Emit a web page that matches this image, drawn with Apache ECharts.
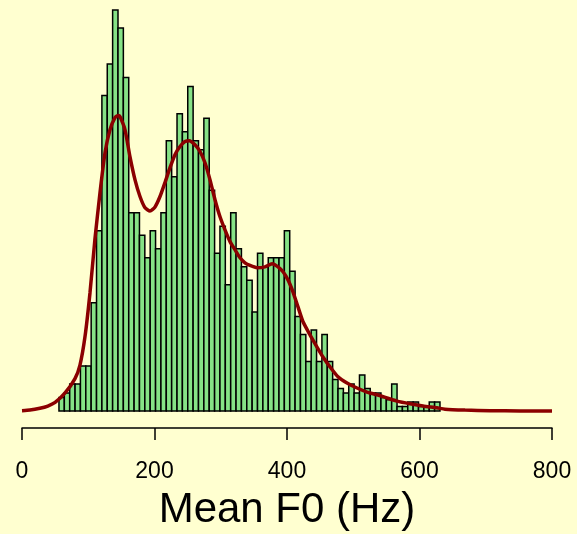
<!DOCTYPE html>
<html>
<head>
<meta charset="utf-8">
<script src="https://cdn.jsdelivr.net/npm/echarts@6/dist/echarts.min.js"></script>
<style>
html,body{margin:0;padding:0;background:#FFFFD0;}
#c{width:577px;height:534px;}
</style>
</head>
<body>
<div id="c"></div>
<script>
// Histogram bins (Hz)
const BIN_START = 55.8;
const BIN_WIDTH = 8.1;
// Bar counts, one per bin
const counts = [3, 4, 6, 6, 10, 10, 24, 40, 70, 77,
  89, 85, 74, 44, 44, 39, 34, 40, 36, 44,
  60, 52, 66, 62, 72, 60, 58, 65, 49, 35,
  41, 28, 44, 36, 32, 29, 22, 35, 32, 34,
  34, 34, 40, 31, 21, 17, 11, 18, 11, 17,
  11, 7, 5, 4, 6, 4, 8, 5, 4, 4,
  3, 2.5, 6, 1, 1, 2, 2, 1, 1, 2, 2];
// Density curve (x in Hz, y in same units as counts)
const curveX = [0, 12, 27, 39, 50, 65, 80, 87.5, 95, 102.6, 110, 117.7, 125.3, 132.8, 140.4, 145.4, 148, 155.5, 163, 170.6, 178.1, 185.7, 193.2, 200.8, 208.3, 215.8, 223.4, 230.9, 238.5, 246, 252.5, 261.1, 268.7, 276.2, 283.8, 291.3, 298.9, 306.4, 314, 321.5, 329.1, 336.6, 344.2, 354.7, 366.8, 377.4, 386.4, 394, 401.5, 409.1, 416.6, 424.2, 434.7, 445.3, 454.3, 464.9, 477, 490.6, 505.7, 520.8, 535.8, 550.9, 566, 585.7, 605.3, 626.4, 638.5, 668.7, 706.4, 751.7, 800];
const curveY = [0.07, 0.2, 0.6, 1.1, 1.9, 4.0, 7.2, 10.2, 16.4, 26.2, 38.0, 48.4, 57.3, 62.4, 65.1, 65.6, 65.3, 62.4, 56.4, 51.3, 47.6, 45.1, 44.4, 45.3, 47.6, 50.7, 54.0, 56.9, 58.7, 59.8, 60.0, 59.1, 57.6, 55.1, 51.3, 46.9, 43.1, 40.2, 37.6, 35.8, 34.0, 32.9, 32.3, 31.8, 32.0, 32.7, 32.0, 30.9, 29.1, 26.4, 23.1, 19.8, 16.9, 14.2, 12.0, 9.8, 7.6, 6.2, 5.1, 4.2, 3.6, 2.9, 2.2, 1.6, 1.1, 0.7, 0.4, 0.2, 0.07, 0.02, 0];
const xTicks = [0, 200, 400, 600, 800];

const barData = counts.map((c, i) => [BIN_START + i * BIN_WIDTH, BIN_START + (i + 1) * BIN_WIDTH, c]);
const lineData = curveX.map((x, i) => [x, curveY[i]]);

const chart = echarts.init(document.getElementById('c'), null, {renderer: 'canvas'});
chart.setOption({
  backgroundColor: '#FFFFD0',
  animation: false,
  grid: {left: 22, right: 25, top: 10, bottom: 106, containLabel: false, outerBoundsMode: 'none'},
  xAxis: {
    type: 'value', min: 0, max: 800, interval: 200,
    axisLine: {show: true, onZero: false, lineStyle: {color: '#000', width: 1.5}},
    axisTick: {show: true, inside: false, length: 12, lineStyle: {color: '#000', width: 1.5}},
    axisLabel: {show: true, margin: 32, color: '#000', fontSize: 23, fontFamily: 'Liberation Sans, Arial, sans-serif',
      formatter: v => xTicks.includes(v) ? String(v) : ''},
    splitLine: {show: false},
    name: 'Mean F0 (Hz)', nameLocation: 'middle', nameGap: 61,
    nameTextStyle: {color: '#000', fontSize: 42, fontFamily: 'Liberation Sans, Arial, sans-serif'}
  },
  yAxis: {type: 'value', min: -3.773, max: 89, show: false, splitLine: {show: false}},
  series: [
    {
      type: 'custom',
      data: barData,
      encode: {x: [0, 1], y: 2},
      renderItem: function (params, api) {
        const p0 = api.coord([api.value(0), 0]);
        const p1 = api.coord([api.value(1), api.value(2)]);
        return {
          type: 'rect',
          shape: {x: p0[0], y: p1[1], width: p1[0] - p0[0], height: p0[1] - p1[1]},
          style: {fill: '#86E286', stroke: '#000', lineWidth: 1.5}
        };
      },
      z: 2
    },
    {
      type: 'line',
      data: lineData,
      showSymbol: false,
      smooth: 0.2,
      lineStyle: {color: '#8B0000', width: 3.5},
      z: 3
    }
  ]
});
</script>
</body>
</html>
